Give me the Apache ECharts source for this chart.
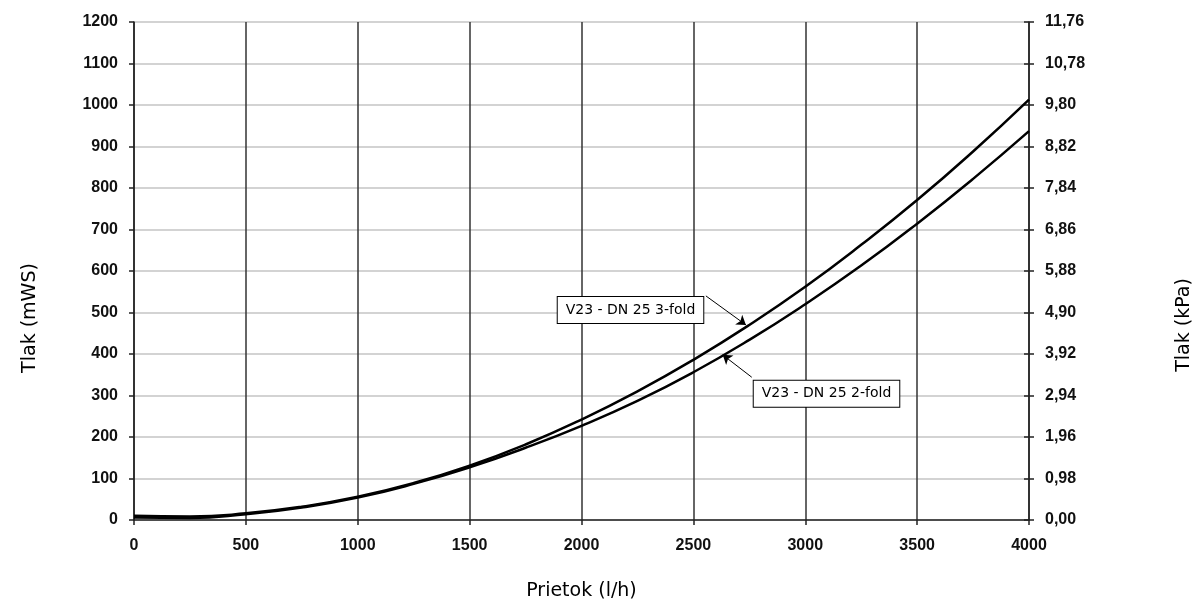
<!DOCTYPE html>
<html>
<head>
<meta charset="utf-8">
<script src="https://cdn.jsdelivr.net/npm/echarts@6/dist/echarts.min.js"></script>
<style>html,body{margin:0;padding:0;background:#fff;overflow:hidden;}#c{width:100vw;height:100vh;}</style>
</head>
<body>
<div id="c"></div>
<script>
var flow = [0, 250, 500, 750, 1000, 1250, 1500, 1750, 2000, 2250, 2500, 2750, 3000, 3250, 3500, 3750, 4000];
var fold3 = [10, 8.5, 16, 32, 56, 89, 131, 182, 242, 310, 386, 470, 562, 663, 771, 888, 1013];
var fold2 = [6, 5, 14, 30, 54, 87, 127, 174, 227, 287, 356, 434, 520, 613, 714, 822, 937];
var kPaLabels = ['0,00','0,98','1,96','2,94','3,92','4,90','5,88','6,86','7,84','8,82','9,80','10,78','11,76'];
var name3 = 'V23 - DN 25 3-fold';
var name2 = 'V23 - DN 25 2-fold';

function pairs(xs, ys){ return xs.map(function(x,i){ return [x, ys[i]]; }); }

var chart = echarts.init(document.getElementById('c'));
var labelFont = {color:'#111', fontSize:16, fontWeight:'bold', fontFamily:'Liberation Sans'};
var boxLabel = {
  show:true, position:'inside', color:'#000', fontSize:14, fontFamily:'DejaVu Sans',
  backgroundColor:'#fff', borderColor:'#000', borderWidth:1, padding:[6,8]
};
function plain(v){ return String(v); }
chart.setOption({
  animation:false,
  grid:{left:134, right:169, top:22, bottom:78},
  xAxis:{
    type:'value', min:0, max:4000, interval:500,
    name:'Prietok (l/h)', nameLocation:'middle', nameGap:62,
    nameTextStyle:{fontSize:19, fontFamily:'DejaVu Sans', color:'#000'},
    axisLine:{show:true, lineStyle:{color:'#222', width:1.5}},
    axisTick:{show:true, length:5, lineStyle:{color:'#222', width:1.5}},
    axisLabel:Object.assign({margin:18, formatter:plain}, labelFont),
    splitLine:{show:true, lineStyle:{color:'#333', width:1.5}}
  },
  yAxis:[
    {type:'value', position:'left', min:0, max:1200, interval:100,
     axisLine:{show:true, lineStyle:{color:'#222', width:1.5}},
     axisTick:{show:true, length:5, lineStyle:{color:'#222', width:1.5}},
     axisLabel:Object.assign({margin:16, formatter:plain}, labelFont),
     splitLine:{show:true, lineStyle:{color:'#c4c4c4', width:1.5}}},
    {type:'value', position:'right', min:0, max:1200, interval:100,
     axisLine:{show:true, lineStyle:{color:'#222', width:1.5}},
     axisTick:{show:true, length:5, lineStyle:{color:'#222', width:1.5}},
     axisLabel:Object.assign({margin:16, formatter:function(v){ return kPaLabels[Math.round(v/100)]; }}, labelFont),
     splitLine:{show:false}},
    {type:'value', position:'right', min:0, max:1200, interval:100,
     axisLine:{show:false},
     axisTick:{show:true, inside:true, length:5, lineStyle:{color:'#222', width:1.5}},
     axisLabel:{show:false},
     splitLine:{show:false}}
  ],
  graphic:[
    {type:'text', x:30, y:318, rotation:Math.PI/2,
     style:{text:'Tlak (mWS)', fontSize:19, fontFamily:'DejaVu Sans', fill:'#000', textAlign:'center', textVerticalAlign:'middle'}},
    {type:'text', x:1184, y:325, rotation:Math.PI/2,
     style:{text:'Tlak (kPa)', fontSize:19, fontFamily:'DejaVu Sans', fill:'#000', textAlign:'center', textVerticalAlign:'middle'}}
  ],
  series:[
    {type:'line', name:name3, data:pairs(flow, fold3), smooth:true, showSymbol:false,
     lineStyle:{color:'#000', width:2.5}, z:5,
     markLine:{silent:true, symbol:['none','arrow'], symbolSize:9, label:{show:false},
       lineStyle:{color:'#000', width:1, type:'solid'},
       data:[[{coord:[2556,540]},{coord:[2735,470]}]]},
     markPoint:{silent:true, symbol:'rect', symbolSize:1, itemStyle:{color:'rgba(0,0,0,0)'},
       label:Object.assign({formatter:name3}, boxLabel),
       data:[{coord:[2219,506]}]}},
    {type:'line', name:name2, data:pairs(flow, fold2), smooth:true, showSymbol:false,
     lineStyle:{color:'#000', width:2.5}, z:5,
     markLine:{silent:true, symbol:['none','arrow'], symbolSize:9, label:{show:false},
       lineStyle:{color:'#000', width:1, type:'solid'},
       data:[[{coord:[2761,344]},{coord:[2631,398]}]]},
     markPoint:{silent:true, symbol:'rect', symbolSize:1, itemStyle:{color:'rgba(0,0,0,0)'},
       label:Object.assign({formatter:name2}, boxLabel),
       data:[{coord:[3095,304]}]}}
  ]
});
</script>
</body>
</html>
